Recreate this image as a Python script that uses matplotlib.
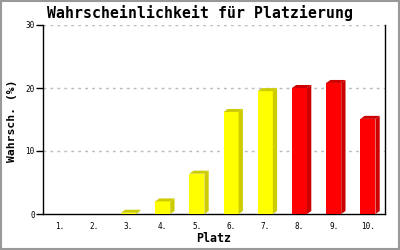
import matplotlib
matplotlib.use('Agg')
import matplotlib.pyplot as plt
from matplotlib.patches import Polygon, Rectangle

# data
places = [1, 2, 3, 4, 5, 6, 7, 8, 9, 10]
place_labels = ['1.', '2.', '3.', '4.', '5.', '6.', '7.', '8.', '9.', '10.']
probs = [0.0, 0.0, 0.2, 2.0, 6.4, 16.2, 19.5, 20.0, 20.8, 15.1]
front_colors = ['#ffff00'] * 7 + ['#ff0000'] * 3
shade_colors = ['#cccc00'] * 7 + ['#cc0000'] * 3

plt.rcParams['font.family'] = 'DejaVu Sans Mono'

fig = plt.figure(figsize=(4, 2.5), dpi=100)
ax = fig.add_axes([43/400, 36/250, 342/400, 189/250])

w = 0.44
dx = 0.125
dy = 0.476

ax.bar(places, probs, width=w, color=front_colors, zorder=3, linewidth=0)
for x, v, c in zip(places, probs, shade_colors):
    if v <= 0:
        continue
    r = x + w/2
    l = x - w/2
    side = Polygon([(r, 0), (r + dx, dy), (r + dx, v + dy), (r, v)],
                   closed=True, facecolor=c, edgecolor='none', zorder=3)
    top = Polygon([(l, v), (l + dx, v + dy), (r + dx, v + dy), (r, v)],
                  closed=True, facecolor=c, edgecolor='none', zorder=3)
    ax.add_patch(side)
    ax.add_patch(top)

ax.set_xlim(0.5, 10.5)
ax.set_ylim(0, 30)
ax.set_yticks([0, 10, 20, 30])
ax.set_yticklabels(['0', '10', '20', '30'], fontsize=5.5)
ax.set_xticks(places)
ax.set_xticklabels(place_labels, fontsize=5.5)
ax.tick_params(axis='x', length=0, pad=6)
ax.tick_params(axis='y', length=5, width=1, pad=1, direction='out')

for y in [10, 20, 30]:
    ax.axhline(y, color='#bbbbbb', linestyle=(0, (2, 3)), linewidth=1, zorder=1)

ax.spines['top'].set_visible(False)
for s in ['left', 'right', 'bottom']:
    ax.spines[s].set_linewidth(1)
    ax.spines[s].set_color('black')

fig.text(0.5, 1 - 13/250, 'Wahrscheinlichkeit für Platzierung',
         ha='center', va='center', fontsize=10.7, fontweight='bold')
fig.text(214/400, 1 - 239/250, 'Platz', ha='center', va='center',
         fontsize=8.4, fontweight='bold')
fig.text(12/400, 1 - 121/250, 'Wahrsch. (%)', ha='center', va='center',
         rotation=90, fontsize=8.2, fontweight='bold')

fig.patches.append(Rectangle((0.002, 0.003), 0.995, 0.994, transform=fig.transFigure,
                             fill=False, edgecolor='#999999', linewidth=1.5))

plt.savefig('out.png', dpi=100)
